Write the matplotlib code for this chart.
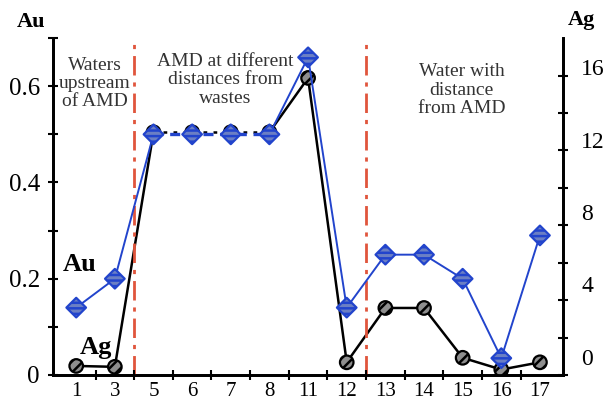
import matplotlib
matplotlib.use("Agg")
import matplotlib.pyplot as plt
import numpy as np

# sample numbers along the profile
samples = ["1", "3", "5", "6", "7", "8", "11", "12", "13", "14", "15", "16", "17"]
au = [0.14, 0.20, 0.50, 0.50, 0.50, 0.50, 0.66, 0.14, 0.25, 0.25, 0.20, 0.035, 0.29]
ag = [-0.5, -0.55, 12.4, 12.4, 12.4, 12.4, 15.4, -0.3, 2.7, 2.7, -0.05, -0.7, -0.3]
zone_labels = ["Waters\nupstream\nof AMD", "AMD at different\ndistances from\nwastes",
               "Water with\ndistance\nfrom AMD"]

plt.rcParams["font.family"] = ["Liberation Serif", "DejaVu Serif"]
plt.rcParams["hatch.linewidth"] = 1.8

fig = plt.figure(figsize=(6.08, 4.03), dpi=100)
ax = fig.add_axes([0.0872, 0.0695, 0.839, 0.836])
ax2 = ax.twinx()

x = np.arange(len(samples))
blue = "#2244cc"

# Ag line (black)
ax2.plot(x[:3], ag[:3], color="black", lw=1.8, zorder=2)
ax2.plot(x[5:], ag[5:], color="black", lw=1.8, zorder=2)
ax2.plot(x[2:6], ag[2:6], color="black", lw=1.8, ls=(0, (1.5, 2.5)), zorder=2)
with plt.rc_context({"hatch.color": "#f2f2f2"}):
    ax2.scatter(x, ag, s=95, marker="o", facecolor="#8e8e8e", edgecolor="black",
                linewidth=1.6, hatch="///", zorder=3)

# Au line (blue)
ax.plot(x[:3], au[:3], color=blue, lw=1.4, zorder=2)
ax.plot(x[5:], au[5:], color=blue, lw=1.4, zorder=2)
ax.plot(x[2:6], au[2:6], color=blue, lw=2.4, ls=(0, (3, 2)), zorder=2)
with plt.rc_context({"hatch.color": "#c8d0ea"}):
    ax.scatter(x, au, s=100, marker="D", facecolor="#6b7fc4", edgecolor=blue,
               linewidth=1.6, hatch="---", zorder=3)

# Au axes on top so the blue markers sit above the black ones
ax.set_zorder(ax2.get_zorder() + 1)
ax.patch.set_visible(False)

# zone separators
for xv in (1.5, 7.5):
    ax.axvline(xv, color="#e0553c", lw=2, ls=(0, (7, 2.5, 1.5, 2.5)), zorder=1)

ax.set_xlim(-0.6, 12.6)
ax.set_ylim(0, 0.7)
ax2.set_ylim(-1.0, 17.6)

ax.set_xticks(x)
ax.set_xticklabels(samples)
ax.set_xticks(np.arange(-0.5, 12.5, 1.0)[1:], minor=True)
ax.tick_params(axis="x", which="major", length=0, labelsize=15, pad=5)
ax.tick_params(axis="x", which="minor", length=7, width=1.5, direction="inout")

ax.set_yticks([0, 0.2, 0.4, 0.6])
ax.set_yticklabels(["0", "0.2", "0.4", "0.6"])
ax.set_yticks(np.arange(0.1, 0.71, 0.2), minor=True)
ax.tick_params(axis="y", which="both", length=7, width=1.5, direction="inout", labelsize=18, pad=6)

ylo, yhi = ax2.get_ylim()
ax2.set_yticks([0, 4, 8, 12, 16])
ax2.set_yticks(np.linspace(ylo, yhi, 10)[:-1], minor=True)
ax2.tick_params(axis="y", which="major", length=0, labelsize=17, pad=13)
ax2.tick_params(axis="y", which="minor", length=7, width=1.5, direction="inout")

for a in (ax, ax2):
    a.spines["top"].set_visible(False)
    for s in ("left", "right", "bottom"):
        a.spines[s].set_linewidth(2)

# zone captions
txt = dict(color="#333333", fontsize=14, ha="center", va="center", linespacing=1.1)
ax.text(0.49, 0.606, zone_labels[0], **txt)
ax.text(3.85, 0.613, zone_labels[1], **txt)
ax.text(9.97, 0.592, zone_labels[2], **txt)

# series labels
ax.text(0.1, 0.229, "Au", fontsize=19, fontweight="bold", va="center", ha="center")
ax.text(0.5, 0.058, "Ag", fontsize=19, fontweight="bold", va="center", ha="center")

# axis titles
fig.text(0.051, 0.945, "Au", fontsize=16, fontweight="bold", ha="center", va="center")
fig.text(0.956, 0.95, "Ag", fontsize=16, fontweight="bold", ha="center", va="center")

fig.savefig("out.png", dpi=100)
